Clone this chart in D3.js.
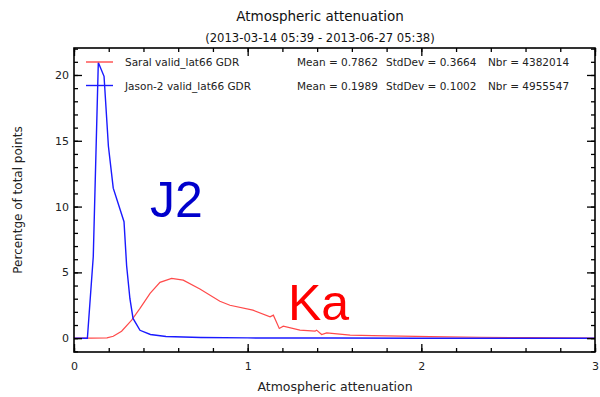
<!DOCTYPE html>
<html>
<head>
<meta charset="utf-8">
<script src="https://cdn.jsdelivr.net/npm/d3@7"></script>
<style>
  body { margin: 0; background: #fff; }
  svg { font-family: "DejaVu Sans", sans-serif; }
</style>
</head>
<body>
<svg id="chart" width="600" height="397"></svg>
<script>
// data
const saralX = [0, 0.1, 0.19, 0.226, 0.274, 0.332, 0.38, 0.438, 0.495, 0.562, 0.629, 0.725, 0.84, 0.898, 1.03, 1.129, 1.148, 1.182, 1.205, 1.301, 1.388, 1.397, 1.426, 1.455, 1.59, 1.72, 2.05, 2.34, 2.6, 2.8, 3.0];
const saralY = [0, 0, 0.02, 0.15, 0.53, 1.37, 2.26, 3.4, 4.24, 4.54, 4.41, 3.73, 2.8, 2.5, 2.13, 1.62, 1.75, 0.74, 0.91, 0.61, 0.53, 0.61, 0.28, 0.4, 0.23, 0.2, 0.12, 0.07, 0.04, 0.02, 0.01];
const jasonX = [0, 0.077, 0.111, 0.14, 0.173, 0.198, 0.226, 0.288, 0.303, 0.322, 0.34, 0.38, 0.44, 0.53, 0.73, 1.0, 1.5, 2.0, 3.0];
const jasonY = [0, 0, 6.2, 20.95, 19.9, 14.6, 11.4, 8.85, 5.5, 3.0, 1.5, 0.6, 0.28, 0.13, 0.05, 0.02, 0.01, 0, 0];

const legendRows = [
  { name: "Saral valid_lat66 GDR", mean: "Mean = 0.7862", std: "StdDev = 0.3664", nbr: "Nbr = 4382014", color: "#ff4a4a" },
  { name: "Jason-2 valid_lat66 GDR", mean: "Mean = 0.1989", std: "StdDev = 0.1002", nbr: "Nbr = 4955547", color: "#1a1aff" }
];

const xTicks = [0, 1, 2, 3];
const yTicks = [0, 5, 10, 15, 20];

const svg = d3.select('#chart');
const pLeft = 74, pRight = 595, pTop = 48, pBottom = 352;

let x = d3.scaleLinear().domain([0, 3]).range([pLeft, pRight]);
let y = d3.scaleLinear().domain([-1.05, 22.05]).range([pBottom, pTop]);

// clip
svg.append('clipPath').attr('id', 'clip')
  .append('rect').attr('x', pLeft).attr('y', pTop).attr('width', pRight - pLeft).attr('height', pBottom - pTop);

let line = d3.line().x(d => x(d[0])).y(d => y(d[1]));

svg.append('path')
  .datum(saralX.map((v, i) => [v, saralY[i]]))
  .attr('d', line)
  .attr('fill', 'none')
  .attr('stroke', legendRows[0].color)
  .attr('stroke-width', 1.2)
  .attr('clip-path', 'url(#clip)');

svg.append('path')
  .datum(jasonX.map((v, i) => [v, jasonY[i]]))
  .attr('d', line)
  .attr('fill', 'none')
  .attr('stroke', legendRows[1].color)
  .attr('stroke-width', 1.4)
  .attr('clip-path', 'url(#clip)');

// axes, ticks inward on all sides
let minorX = d3.range(0, 3.001, 0.2);
let minorY = d3.range(-1, 22.001, 1);

let bottomAxis = d3.axisBottom(x).tickValues(xTicks).tickSize(-8).tickPadding(10).tickFormat(d3.format('d'));
let bottomMinor = d3.axisBottom(x).tickValues(minorX).tickSize(-4).tickFormat('');
let topAxis = d3.axisTop(x).tickValues(xTicks).tickSize(-8).tickFormat('');
let topMinor = d3.axisTop(x).tickValues(minorX).tickSize(-4).tickFormat('');
let leftAxis = d3.axisLeft(y).tickValues(yTicks).tickSize(-8).tickPadding(5).tickFormat(d3.format('d'));
let leftMinor = d3.axisLeft(y).tickValues(minorY).tickSize(-4).tickFormat('');
let rightAxis = d3.axisRight(y).tickValues(yTicks).tickSize(-8).tickFormat('');
let rightMinor = d3.axisRight(y).tickValues(minorY).tickSize(-4).tickFormat('');

function addAxis(ax, tr) {
  let g = svg.append('g').attr('transform', tr).call(ax);
  g.select('.domain').remove();
  g.selectAll('line').attr('stroke', '#000').attr('stroke-width', 1.3);
  g.selectAll('text').attr('font-size', 11).attr('fill', '#222').attr('font-family', 'DejaVu Sans');
  return g;
}
addAxis(bottomAxis, `translate(0,${pBottom})`);
addAxis(bottomMinor, `translate(0,${pBottom})`);
addAxis(topAxis, `translate(0,${pTop})`);
addAxis(topMinor, `translate(0,${pTop})`);
addAxis(leftAxis, `translate(${pLeft},0)`);
addAxis(leftMinor, `translate(${pLeft},0)`);
addAxis(rightAxis, `translate(${pRight},0)`);
addAxis(rightMinor, `translate(${pRight},0)`);

svg.append('rect')
  .attr('x', pLeft).attr('y', pTop)
  .attr('width', pRight - pLeft).attr('height', pBottom - pTop)
  .attr('fill', 'none').attr('stroke', '#000').attr('stroke-width', 1.6);

// legend
legendRows.forEach((r, i) => {
  let ly = 62 + i * 23.5;
  svg.append('line').attr('x1', 86).attr('x2', 113).attr('y1', ly).attr('y2', ly)
    .attr('stroke', r.color).attr('stroke-width', 1.4);
  let t = svg.append('g').attr('font-size', 10.5).attr('fill', '#222');
  t.append('text').attr('x', 125).attr('y', ly + 4).text(r.name);
  t.append('text').attr('x', 297).attr('y', ly + 4).text(r.mean);
  t.append('text').attr('x', 386).attr('y', ly + 4).text(r.std);
  t.append('text').attr('x', 488).attr('y', ly + 4).text(r.nbr);
});

// titles
svg.append('text').attr('x', 320).attr('y', 21).attr('text-anchor', 'middle')
  .attr('font-size', 13.5).attr('fill', '#111').text('Atmospheric attenuation');
svg.append('text').attr('x', 320).attr('y', 42).attr('text-anchor', 'middle')
  .attr('font-size', 11.6).attr('fill', '#111').text('(2013-03-14 05:39 - 2013-06-27 05:38)');

svg.append('text').attr('x', 335).attr('y', 391).attr('text-anchor', 'middle')
  .attr('font-size', 12.5).attr('fill', '#222').text('Atmospheric attenuation');
svg.append('text').attr('transform', 'translate(22,200) rotate(-90)').attr('text-anchor', 'middle')
  .attr('font-size', 12).attr('fill', '#222').text('Percentge of total points');

// big annotations
svg.append('text').attr('x', 150).attr('y', 217).attr('font-family', 'Liberation Sans, Arial, sans-serif')
  .attr('font-size', 50).attr('fill', '#0000cc').text('J2');
svg.append('text').attr('x', 288).attr('y', 320).attr('font-family', 'Liberation Sans, Arial, sans-serif')
  .attr('font-size', 50).attr('fill', '#ff0000').text('Ka');
</script>
</body>
</html>
